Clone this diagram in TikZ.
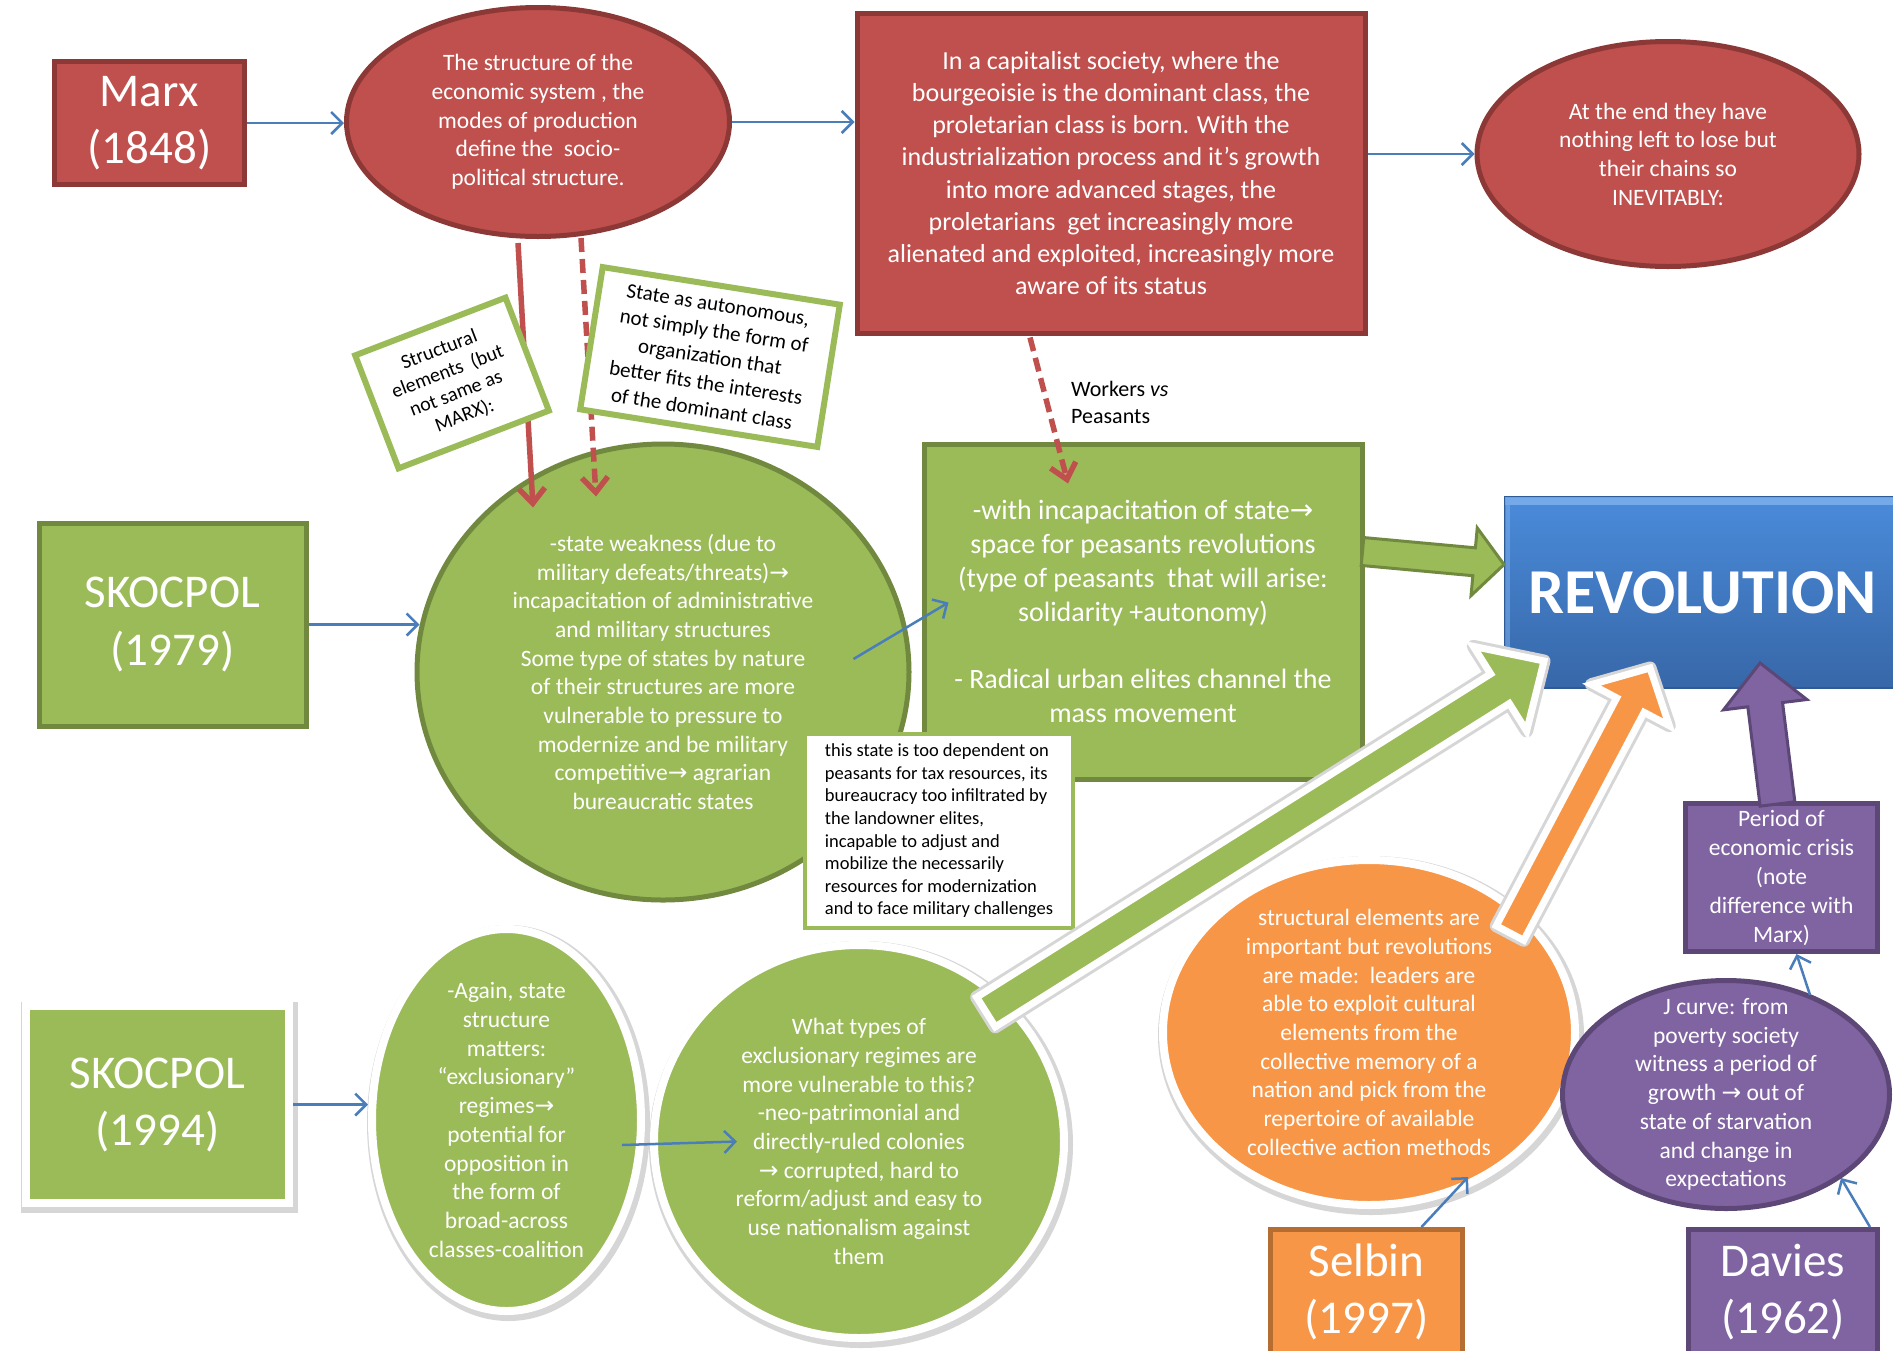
\documentclass[tikz,border=0pt]{standalone}
\usepackage{fontspec}
\setmainfont{Carlito}
\newfontfamily\arrowfont[Scale=1.0]{DejaVu Sans}
\usetikzlibrary{arrows.meta,shapes.geometric,calc,shadows,backgrounds}
\definecolor{redF}{HTML}{C0504D}
\definecolor{redD}{HTML}{8C3836}
\definecolor{grnF}{HTML}{9BBB59}
\definecolor{grnD}{HTML}{71893F}
\definecolor{orF}{HTML}{F79646}
\definecolor{orD}{HTML}{B66D31}
\definecolor{puF}{HTML}{8064A2}
\definecolor{puD}{HTML}{5C4776}
\definecolor{blueL}{HTML}{4A7EBB}
\definecolor{revT}{HTML}{4A8BDA}
\definecolor{revB}{HTML}{3767A8}
\definecolor{revD}{HTML}{2E5B95}
\definecolor{revH}{HTML}{7FB2EE}
\newcommand\rarr{{\arrowfont →}}
\newcommand\fs[2]{\fontsize{#1}{#2}\selectfont}
\newcommand\blockarrow[6]{%
  \coordinate (ba-h) at ($(#3)!#6!(#2)$);
  \path[#1] ($(#2)!#4!90:(#3)$) -- ($(ba-h)!#4!90:(#3)$) -- ($(ba-h)!#5!90:(#3)$) -- (#3)
     -- ($(ba-h)!#5!-90:(#3)$) -- ($(ba-h)!#4!-90:(#3)$) -- ($(#2)!#4!-90:(#3)$) -- cycle;
}
\tikzset{
  tbox/.style={rectangle, line width=5pt, text=white, align=center, font=\fs{47}{57}, inner sep=0pt},
  ell/.style={ellipse, line width=5pt, text=white, align=center, font=\fs{23.5}{28.7}, inner xsep=0pt, inner ysep=-40pt},
  wbox/.style={rectangle, line width=5pt, text=white, align=center, inner sep=0pt},
  rbox/.style={rectangle, draw=grnF, fill=white, line width=6pt, text=black, align=center, inner sep=0pt},
  glow/.style={preaction={draw=black!16, line width=14pt, transform canvas={xshift=2pt, yshift=-3pt}}},
  conn/.style={draw=blueL, line width=2.5pt, -{Straight Barb[length=11pt,width=22pt]}},
  redconn/.style={draw=redF, line width=5.5pt, -{Straight Barb[length=15pt,width=26pt]}},
  redblk/.style={fill=redF, draw=redD, line width=4pt},
  grnblk/.style={fill=grnF, draw=grnD, line width=3pt},
  purblk/.style={fill=puF, draw=puD, line width=3pt},
  halo/.style={fill=black!16, draw=black!16, line width=13pt, line join=round},
  wgrn/.style={fill=grnF, draw=white, line width=7pt},
  wor/.style={fill=orF, draw=white, line width=7pt},
}
\begin{document}
\begin{tikzpicture}[x=1pt,y=-1pt]
\useasboundingbox[fill=white] (0,0) rectangle (1893,1350);

% ---- Marx row
\node[tbox, fill=redF, draw=redD, minimum width=190pt, minimum height=123pt] (marx) at (149.5,123) {Marx\\(1848)};
\node[ell, fill=redF, draw=redD, minimum width=383pt, minimum height=229pt] (ellA) at (538,122)
  {The structure of the\\economic system , the\\modes of production\\define the\ \ socio-\\political structure.};
\node[wbox, fill=redF, draw=redD, minimum width=508pt, minimum height=320pt, font=\fs{26}{32.2}] (bigred) at (1111,173)
  {In a capitalist society, where the\\bourgeoisie is the dominant class, the\\proletarian class is born. With the\\industrialization process and it’s growth\\into more advanced stages, the\\proletarians\ \ get increasingly more\\alienated and exploited, increasingly more\\aware of its status};
\node[ell, fill=redF, draw=redD, minimum width=382pt, minimum height=225pt] (ellR) at (1668,154)
  {At the end they have\\nothing left to lose but\\their chains so\\INEVITABLY:};

% ---- REVOLUTION
\node[rectangle, top color=revT, bottom color=revB, draw=revD, line width=2pt, minimum width=395pt, minimum height=191pt,
      text=white, font=\bfseries\fs{64}{70}, inner sep=0pt] (rev) at (1702.5,592.5) {REVOLUTION};
\fill[revH, opacity=0.8] ($(rev.north west)+(1,1)$) rectangle ($(rev.north east)+(0,9)$);
\fill[revH, opacity=0.5] ($(rev.north west)+(1,9)$) rectangle ($(rev.south west)+(6,-8)$);

% ---- Skocpol 1979 row
\node[tbox, fill=grnF, draw=grnD, minimum width=267pt, minimum height=203pt, font=\fs{47}{58}] (sk79) at (172.5,624.5) {SKOCPOL\\(1979)};
\node[ell, fill=grnF, draw=grnD, minimum width=492pt, minimum height=456pt] (circ) at (663,672)
  {-state weakness (due to\\military defeats/threats)\rarr\\incapacitation of administrative\\and military structures\\Some type of states by nature\\of their structures are more\\vulnerable to pressure to\\modernize and be military\\competitive\rarr\ agrarian\\bureaucratic states};
\node[wbox, fill=grnF, draw=grnD, minimum width=438pt, minimum height=335pt, font=\fs{28}{33.8}] (grect) at (1143,611.5)
  {-with incapacitation of state\rarr\\space for peasants revolutions\\(type of peasants\ \ that will arise:\\solidarity +autonomy)\\[33.8pt]- Radical urban elites channel the\\mass movement};
\node[rectangle, draw=grnF, fill=white, line width=4pt, minimum width=268pt, minimum height=194pt, inner sep=0pt,
      align=left, font=\fs{18.5}{22.6}] (tax) at (939,831)
  {this state is too dependent on\\peasants for tax resources, its\\bureaucracy too infiltrated by\\the landowner elites,\\incapable to adjust and\\mobilize the necessarily\\resources for modernization\\and to face military challenges};
\node[anchor=west, align=left, font=\fs{22}{27}, inner sep=0pt] (wvp) at (1071,402) {Workers \textit{vs}\\Peasants};

% ---- Skocpol 1994 row
\node[tbox, fill=grnF, draw=white, line width=8pt, glow, minimum width=263pt, minimum height=197pt] (sk94) at (157.5,1104.5) {SKOCPOL\\(1994)};
\node[ell, fill=grnF, draw=white, line width=8pt, glow, minimum width=269pt, minimum height=382pt] (ellB) at (506.5,1120)
  {-Again, state\\structure\\matters:\\“exclusionary”\\regimes\rarr\\potential for\\opposition in\\the form of\\broad-across\\classes-coalition};
\node[ell, fill=grnF, draw=white, line width=8pt, glow, minimum width=410pt, minimum height=393pt] (ellC) at (859,1141.5)
  {What types of\\exclusionary regimes are\\more vulnerable to this?\\-neo-patrimonial and\\directly-ruled colonies\\\rarr\ corrupted, hard to\\reform/adjust and easy to\\use nationalism against\\them};

% ---- Selbin / Davies
\node[ell, fill=orF, draw=white, line width=8pt, glow, minimum width=412pt, minimum height=345pt] (orange) at (1369,1032.5)
  {structural elements are\\important but revolutions\\are made:\ \ leaders are\\able to exploit cultural\\elements from the\\collective memory of a\\nation and pick from the\\repertoire of available\\collective action methods};
\node[ell, fill=puF, draw=puD, minimum width=327pt, minimum height=228pt] (purple) at (1726,1094.5)
  {J curve: from\\poverty society\\witness a period of\\growth \rarr\ out of\\state of starvation\\and change in\\expectations};
\node[wbox, fill=puF, draw=puD, minimum width=192pt, minimum height=148pt, font=\fs{23.5}{29}] (period) at (1781.5,877.5)
  {Period of\\economic crisis\\(note\\difference with\\Marx)};
\node[tbox, fill=orF, draw=orD, minimum width=192pt, minimum height=125pt] (selbin) at (1366.5,1292) {Selbin\\(1997)};
\node[tbox, fill=puF, draw=puD, minimum width=189pt, minimum height=125pt] (davies) at (1783,1292) {Davies\\(1962)};

% ---- thin connectors
\draw[conn] (marx.east) -- (marx.east -| ellA.west);
\draw[conn] (ellA.east) -- (bigred.west |- ellA.east);
\draw[conn] (bigred.east |- ellR.west) -- (ellR.west);
\draw[conn] (sk79.east) -- ($(sk79.east -| circ.west)+(5,0)$);
\draw[conn] ($(circ.east)+(-58,-13)$) -- ($(grect.west)+(27,-9)$);
\draw[conn] (sk94.east) -- (sk94.east -| ellB.west);
\draw[conn] ($(ellB.east)+(-23,25)$) -- ($(ellC.west)+(87,0)$);
\draw[conn] ($(selbin.north)+(55,0)$) -- ($(orange.south)+(99,-32)$);
\draw[conn] ($(davies.north)+(87,0)$) -- ($(purple.south)+(115,-33)$);
\draw[conn] ($(purple.north)+(84,17)$) -- ($(period.south)+(15,0)$);

% ---- red connectors
\draw[redconn] ($(ellA.south)+(-20,4)$) -- ($(circ.north)+(-130,66)$);
\draw[redconn, dash pattern=on 14pt off 7pt] ($(ellA.south)+(43,-1)$) -- ($(circ.north)+(-67,55)$);
\draw[redconn, dash pattern=on 14pt off 7pt] ($(bigred.south)+(-81,2)$) -- ($(grect.north)+(-75,42)$);

% ---- rotated note boxes (over the red connectors)
\node[rbox, minimum width=161pt, minimum height=121pt, rotate=21, font=\fs{20}{23.5}] (struct) at (452,383)
  {Structural\\elements\ \ (but\\not same as\\MARX):};
\node[rbox, minimum width=240pt, minimum height=144pt, rotate=-9, font=\fs{21}{26.4}] (autonom) at (710,357)
  {State as autonomous,\\not simply the form of\\organization that\\better fits the interests\\of the dominant class};

% ---- block arrows
\coordinate (rA) at ($(ellR.south)+(-4,-10)$);
\coordinate (rB) at (rev.north -| rA);
\begin{scope}[on background layer]
  \blockarrow{redblk}{rA}{rB}{22pt}{40pt}{37pt}
\end{scope}

\coordinate (g1A) at ($(grect.east)+(-2,-60)$);
\coordinate (g1B) at ($(rev.west)+(0,-28)$);
\blockarrow{grnblk}{g1A}{g1B}{14pt}{34pt}{30pt}

\coordinate (g2A) at ($(ellC.center)+(127,-129.5)$);
\coordinate (g2B) at ($(rev.south west)+(40,-28)$);
\blockarrow{halo}{g2A}{g2B}{17.5pt}{50pt}{52pt}
\blockarrow{wgrn}{g2A}{g2B}{17.5pt}{50pt}{52pt}

\coordinate (oA) at ($(orange.center)+(141,-99.5)$);
\coordinate (oB) at ($(rev.south west)+(146,-21)$);
\blockarrow{halo}{oA}{oB}{15.5pt}{44pt}{42pt}
\blockarrow{wor}{oA}{oB}{15.5pt}{44pt}{42pt}

\coordinate (pA) at ($(period.north)+(-4,3)$);
\coordinate (pB) at ($(rev.south)+(57.5,-26)$);
\blockarrow{purblk}{pA}{pB}{17.5pt}{42pt}{42pt}
\end{tikzpicture}
\end{document}
